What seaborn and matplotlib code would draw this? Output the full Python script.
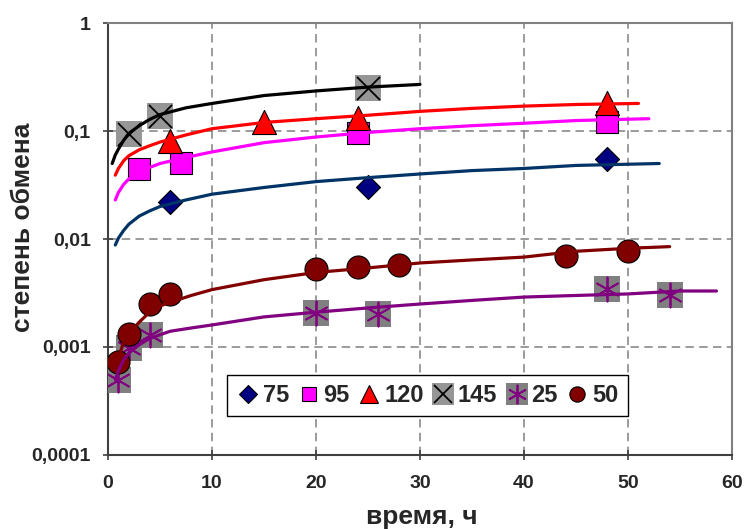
import matplotlib
matplotlib.use("Agg")
import matplotlib.pyplot as plt
import seaborn as sns
import pandas as pd
from matplotlib.lines import Line2D
from matplotlib.legend_handler import HandlerTuple
from matplotlib.ticker import FixedLocator, FixedFormatter, NullLocator

# ---------------- data ----------------
# experimental points
x75 = [6, 25, 48]
y75 = [0.022, 0.0303, 0.055]
x95 = [3, 7, 24, 48]
y95 = [0.0445, 0.0505, 0.096, 0.12]
x120 = [6, 15, 24, 48]
y120 = [0.081, 0.121, 0.132, 0.18]
x145 = [2, 5, 25]
y145 = [0.093, 0.138, 0.25]
x25 = [1, 2, 4, 20, 26, 48, 54]
y25 = [0.0005, 0.00098, 0.00128, 0.00207, 0.002, 0.00345, 0.00303]
x50 = [1, 2, 4, 6, 20, 24, 28, 44, 50]
y50 = [0.00073, 0.00133, 0.0025, 0.0031, 0.0053, 0.0055, 0.0057, 0.0070, 0.0077]

# fitted curves
cx145 = [0.4, 0.7, 1, 1.5, 2, 3, 4, 5, 7.5, 10, 15, 20, 25, 30]
cy145 = [0.05, 0.06, 0.068, 0.082, 0.095, 0.112, 0.128, 0.142, 0.164, 0.18, 0.213, 0.235, 0.255, 0.27]
cx120 = [0.7, 1, 1.5, 2, 3, 4, 5, 7.5, 10, 15, 20, 25, 30, 35, 40, 45, 51]
cy120 = [0.039, 0.045, 0.053, 0.059, 0.067, 0.073, 0.079, 0.092, 0.105, 0.12, 0.13, 0.14, 0.152, 0.162, 0.17, 0.176, 0.18]
cx95 = [0.7, 1, 1.5, 2, 3, 4, 5, 7.5, 10, 15, 20, 25, 30, 35, 40, 45, 52]
cy95 = [0.023, 0.027, 0.032, 0.036, 0.042, 0.046, 0.05, 0.057, 0.064, 0.078, 0.088, 0.097, 0.105, 0.112, 0.118, 0.125, 0.13]
cx75 = [0.7, 1, 1.5, 2, 3, 4, 5, 7.5, 10, 15, 20, 25, 30, 35, 40, 45, 53]
cy75 = [0.0088, 0.0102, 0.012, 0.0137, 0.0163, 0.0182, 0.02, 0.023, 0.026, 0.03, 0.034, 0.037, 0.04, 0.043, 0.045, 0.048, 0.05]
cx50 = [0.8, 1, 1.5, 2, 2.5, 3, 4, 5, 6, 8, 10, 15, 20, 25, 30, 35, 40, 45, 50, 54]
cy50 = [0.00065, 0.0008, 0.0011, 0.0013, 0.0015, 0.0017, 0.0021, 0.0024, 0.0026, 0.003, 0.0034, 0.0042, 0.0049, 0.0054, 0.006, 0.0064, 0.0068, 0.0077, 0.0082, 0.0085]
cx25 = [0.7, 1, 1.5, 2, 3, 4, 5, 6, 8, 10, 15, 20, 25, 30, 35, 40, 45, 50, 55, 58.5]
cy25 = [0.0005, 0.0006, 0.00076, 0.00088, 0.00105, 0.0012, 0.0013, 0.0014, 0.0015, 0.0016, 0.0019, 0.0021, 0.0023, 0.0025, 0.0027, 0.0029, 0.003, 0.0031, 0.0033, 0.0033]

legend_labels = ["75", "95", "120", "145", "25", "50"]
xticks = [0, 10, 20, 30, 40, 50, 60]
yticks = [0.0001, 0.001, 0.01, 0.1, 1]
ytick_labels = ["0,0001", "0,001", "0,01", "0,1", "1"]

# ---------------- style ----------------
sns.set_style("white")
plt.rcParams["font.family"] = ["Liberation Sans", "DejaVu Sans"]
plt.rcParams["font.weight"] = "bold"

fig = plt.figure(figsize=(7.45, 5.29), dpi=100)
ax = fig.add_axes([0.145, 0.1399, 0.8376, 0.8166])

GRAY = "#969696"
MEC = "black"

# markers
sns.scatterplot(x=x75, y=y75, marker="D", s=150, color="#000080", edgecolor=MEC, linewidth=0.8, ax=ax, zorder=3)
sns.scatterplot(x=x95, y=y95, marker="s", s=250, color="#FF00FF", edgecolor=MEC, linewidth=0.8, ax=ax, zorder=3)
sns.scatterplot(x=x145, y=y145, marker="s", s=350, color=GRAY, edgecolor=GRAY, linewidth=0, ax=ax, zorder=3)
sns.scatterplot(x=x145, y=y145, marker="x", s=275, color="black", linewidth=1.3, ax=ax, zorder=3.1)
sns.scatterplot(x=x120, y=y120, marker="^", s=300, color="#FF0000", edgecolor=MEC, linewidth=0.8, ax=ax, zorder=3.2)
sns.scatterplot(x=x25, y=y25, marker="s", s=360, color="#808080", edgecolor="#808080", linewidth=0, ax=ax, zorder=3)
sns.scatterplot(x=x25, y=y25, marker=(6, 2, 0), s=300, color="#800080", edgecolor="#800080", linewidth=1.3, ax=ax, zorder=3.1)
sns.scatterplot(x=x50, y=y50, marker="o", s=275, color="#800000", edgecolor=MEC, linewidth=0.8, ax=ax, zorder=3.2)

# curves
lw = 2.3
for cx, cy, col in [(cx145, cy145, "black"), (cx120, cy120, "#FF0000"), (cx95, cy95, "#FF00FF"),
                    (cx75, cy75, "#003366"), (cx50, cy50, "#800000"), (cx25, cy25, "#800080")]:
    sns.lineplot(x=cx, y=cy, color=col, linewidth=lw, ax=ax, estimator=None, sort=False, zorder=4)

ax.set_yscale("log")
ax.set_xlim(0, 60)
ax.set_ylim(0.0001, 1)
ax.xaxis.set_major_locator(FixedLocator(xticks))
ax.set_xticklabels([str(t) for t in xticks])
ax.yaxis.set_major_locator(FixedLocator(yticks))
ax.yaxis.set_major_formatter(FixedFormatter(ytick_labels))
ax.yaxis.set_minor_locator(NullLocator())
ax.xaxis.set_minor_locator(NullLocator())

ax.grid(True, color="#808080", linewidth=1.1, linestyle=(0, (5.5, 3.5)))
ax.set_axisbelow(True)

for s in ["left", "bottom"]:
    ax.spines[s].set_color("#404040")
    ax.spines[s].set_linewidth(1.5)
for s in ["top", "right"]:
    ax.spines[s].set_color("#808080")
    ax.spines[s].set_linewidth(1.5)

ax.tick_params(axis="both", which="major", direction="inout", length=7, width=1.2,
               color="#404040", labelsize=14, bottom=True, left=True)
ax.tick_params(axis="x", pad=11)
ax.tick_params(axis="y", pad=9)
for lab in ax.get_xticklabels() + ax.get_yticklabels():
    lab.set_fontweight("bold")

ax.set_xlabel("время, ч", fontsize=19, fontweight="bold")
ax.set_ylabel("степень обмена", fontsize=19, fontweight="bold")
ax.xaxis.set_label_coords(0.503, -0.115)
ax.yaxis.set_label_coords(-0.117, 0.528)

# legend
h75 = Line2D([], [], linestyle="none", marker="D", markersize=9.2, markerfacecolor="#000080", markeredgecolor=MEC, markeredgewidth=0.8)
h95 = Line2D([], [], linestyle="none", marker="s", markersize=10, markerfacecolor="#FF00FF", markeredgecolor=MEC, markeredgewidth=0.8)
h120 = Line2D([], [], linestyle="none", marker="^", markersize=13, markerfacecolor="#FF0000", markeredgecolor=MEC, markeredgewidth=0.8)
h145a = Line2D([], [], linestyle="none", marker="s", markersize=16.5, markerfacecolor=GRAY, markeredgecolor=GRAY, markeredgewidth=0)
h145b = Line2D([], [], linestyle="none", marker="x", markersize=13.5, markeredgecolor="black", markeredgewidth=1.3)
h25a = Line2D([], [], linestyle="none", marker="s", markersize=16.5, markerfacecolor="#808080", markeredgecolor="#808080", markeredgewidth=0)
h25b = Line2D([], [], linestyle="none", marker=(6, 2, 0), markersize=14, markeredgecolor="#800080", markeredgewidth=1.3)
h50 = Line2D([], [], linestyle="none", marker="o", markersize=11, markerfacecolor="#800000", markeredgecolor=MEC, markeredgewidth=0.8)

leg = ax.legend([h75, h95, h120, (h145a, h145b), (h25a, h25b), h50], legend_labels,
                handler_map={tuple: HandlerTuple(ndivide=1, pad=0)},
                ncol=6, loc="center", bbox_to_anchor=(0.5738, 0.2524), bbox_transform=fig.transFigure,
                frameon=True, fancybox=False, shadow=False, framealpha=1,
                prop={"size": 17, "weight": "bold"},
                handlelength=1.0, handletextpad=0.12, columnspacing=0.33, borderpad=0.4,
                borderaxespad=0)
leg.get_frame().set_edgecolor("black")
leg.get_frame().set_linewidth(1.0)
leg.set_zorder(10)

fig.savefig("out.png", dpi=100)
